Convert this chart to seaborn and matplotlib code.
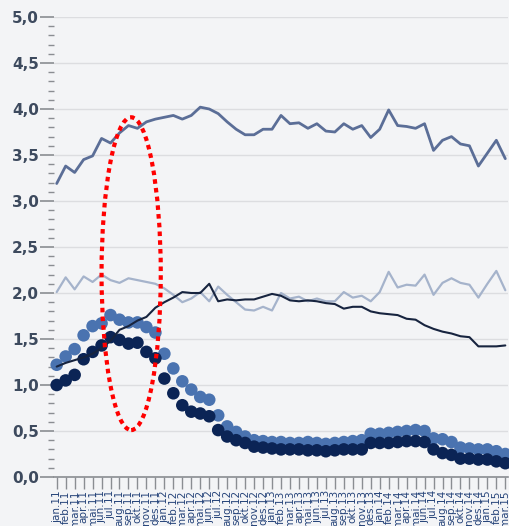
import matplotlib
matplotlib.use("Agg")
import matplotlib.pyplot as plt
from matplotlib.patches import Ellipse
from matplotlib.ticker import MultipleLocator, FuncFormatter
import numpy as np
import pandas as pd
import seaborn as sns

# monthly categories (jan.11 .. mar.15)
months = ["jan", "feb", "mar", "apr", "mai", "jun",
          "jul", "aug", "sep", "okt", "nov", "des"]
years = ["11", "12", "13", "14", "15"]
periods = [f"{m}.{y}" for y in years for m in months][:51]

top_line = [3.19, 3.38, 3.31, 3.45, 3.49, 3.68, 3.63, 3.74, 3.82, 3.79,
            3.86, 3.89, 3.91, 3.93, 3.89, 3.93, 4.02, 4.00, 3.95, 3.86,
            3.78, 3.72, 3.72, 3.78, 3.78, 3.93, 3.84, 3.85, 3.79, 3.84,
            3.76, 3.75, 3.84, 3.78, 3.82, 3.69, 3.78, 3.99, 3.82, 3.81,
            3.79, 3.84, 3.55, 3.66, 3.70, 3.62, 3.60, 3.38, 3.52, 3.66,
            3.46]
light_line = [2.01, 2.17, 2.04, 2.18, 2.12, 2.20, 2.14, 2.11, 2.16, 2.14,
              2.12, 2.10, 2.05, 1.98, 1.90, 1.94, 2.01, 1.91, 2.07, 1.98,
              1.90, 1.82, 1.81, 1.85, 1.81, 2.00, 1.94, 1.96, 1.91, 1.94,
              1.91, 1.91, 2.01, 1.95, 1.97, 1.91, 2.01, 2.23, 2.06, 2.09,
              2.08, 2.20, 1.98, 2.11, 2.16, 2.11, 2.09, 1.95, 2.10, 2.24,
              2.03]
dark_line = [1.20, 1.24, 1.27, 1.30, 1.34, 1.40, 1.48, 1.60, 1.64, 1.70,
             1.74, 1.84, 1.90, 1.95, 2.01, 2.00, 2.00, 2.10, 1.91, 1.93,
             1.92, 1.93, 1.93, 1.96, 1.99, 1.97, 1.92, 1.91, 1.92, 1.91,
             1.89, 1.88, 1.83, 1.85, 1.85, 1.80, 1.78, 1.77, 1.76, 1.72,
             1.71, 1.65, 1.61, 1.58, 1.56, 1.53, 1.52, 1.42, 1.42, 1.42,
             1.43]
light_dots = [1.22, 1.31, 1.39, 1.54, 1.64, 1.67, 1.76, 1.71, 1.68, 1.68,
              1.63, 1.57, 1.34, 1.18, 1.04, 0.95, 0.87, 0.84, 0.67, 0.55,
              0.49, 0.44, 0.40, 0.39, 0.38, 0.38, 0.37, 0.37, 0.38, 0.37,
              0.36, 0.37, 0.38, 0.39, 0.40, 0.47, 0.47, 0.48, 0.49, 0.50,
              0.51, 0.50, 0.42, 0.41, 0.38, 0.32, 0.31, 0.30, 0.30, 0.28,
              0.25]
navy_dots = [1.00, 1.05, 1.11, 1.28, 1.36, 1.43, 1.52, 1.49, 1.45, 1.46,
             1.36, 1.29, 1.07, 0.91, 0.78, 0.71, 0.69, 0.66, 0.51, 0.44,
             0.40, 0.37, 0.33, 0.32, 0.31, 0.30, 0.30, 0.30, 0.29, 0.29,
             0.28, 0.29, 0.30, 0.30, 0.30, 0.37, 0.37, 0.37, 0.38, 0.39,
             0.39, 0.38, 0.30, 0.26, 0.24, 0.20, 0.20, 0.19, 0.19, 0.17,
             0.15]

x = np.arange(len(periods))
df = pd.DataFrame({"x": x, "top": top_line, "light": light_line,
                   "dark": dark_line, "ldots": light_dots, "ndots": navy_dots})

sns.set_style("white")
bg = "#f3f4f6"
fig = plt.figure(figsize=(5.09, 5.26), dpi=100, facecolor=bg)
ax = fig.add_axes([54 / 509, 49 / 526, 454 / 509, 460 / 526])
ax.set_facecolor(bg)

sns.scatterplot(data=df, x="x", y="ldots", color="#4a73b0", s=82,
                edgecolor="none", ax=ax, zorder=3, clip_on=False)
sns.scatterplot(data=df, x="x", y="ndots", color="#0b2455", s=82,
                edgecolor="none", ax=ax, zorder=4, clip_on=False)
sns.lineplot(data=df, x="x", y="top", color="#5b6e97", lw=2.0, ax=ax, zorder=5)
sns.lineplot(data=df, x="x", y="light", color="#a5b3cb", lw=1.6, ax=ax, zorder=5)
sns.lineplot(data=df, x="x", y="dark", color="#17243f", lw=1.5, ax=ax, zorder=6)

# red dotted highlight around the early peak
ax.add_patch(Ellipse((8.3, 2.21), 6.6, 3.4, fill=False, edgecolor="#ff0000",
                     lw=3, linestyle=(0, (1.1, 1.0)), zorder=8, clip_on=False))

ax.set_xlim(-0.3, 50.3)
ax.set_ylim(0, 5)
ax.yaxis.set_major_locator(MultipleLocator(0.5))
ax.yaxis.set_minor_locator(MultipleLocator(0.1))
ax.yaxis.set_major_formatter(FuncFormatter(lambda v, p: f"{v:.1f}".replace(".", ",")))
ax.grid(axis="y", which="major", color="#dcdde0", lw=1)
ax.set_axisbelow(True)

ax.set_xticks(x)
ax.set_xticklabels(periods, rotation=90, fontsize=7.5, color="#26447a")
ax.set_xlabel("")
ax.set_ylabel("")

for side in ["top", "right", "left"]:
    ax.spines[side].set_visible(False)
ax.spines["bottom"].set_color("#8a8d92")
ax.spines["bottom"].set_linewidth(1.2)

ax.tick_params(axis="y", which="major", length=10, width=1.2, color="#8a8d92",
               labelsize=11, labelcolor="#3d4a5e", pad=1, left=True)
ax.tick_params(axis="y", which="minor", length=4.5, width=1.0, color="#8a8d92",
               left=True)
ax.tick_params(axis="x", which="major", length=8.5, width=1.0, color="#8a8d92",
               pad=1, bottom=True)
for lab in ax.get_yticklabels():
    lab.set_fontweight("bold")

fig.savefig("out.png", dpi=100, facecolor=bg)
